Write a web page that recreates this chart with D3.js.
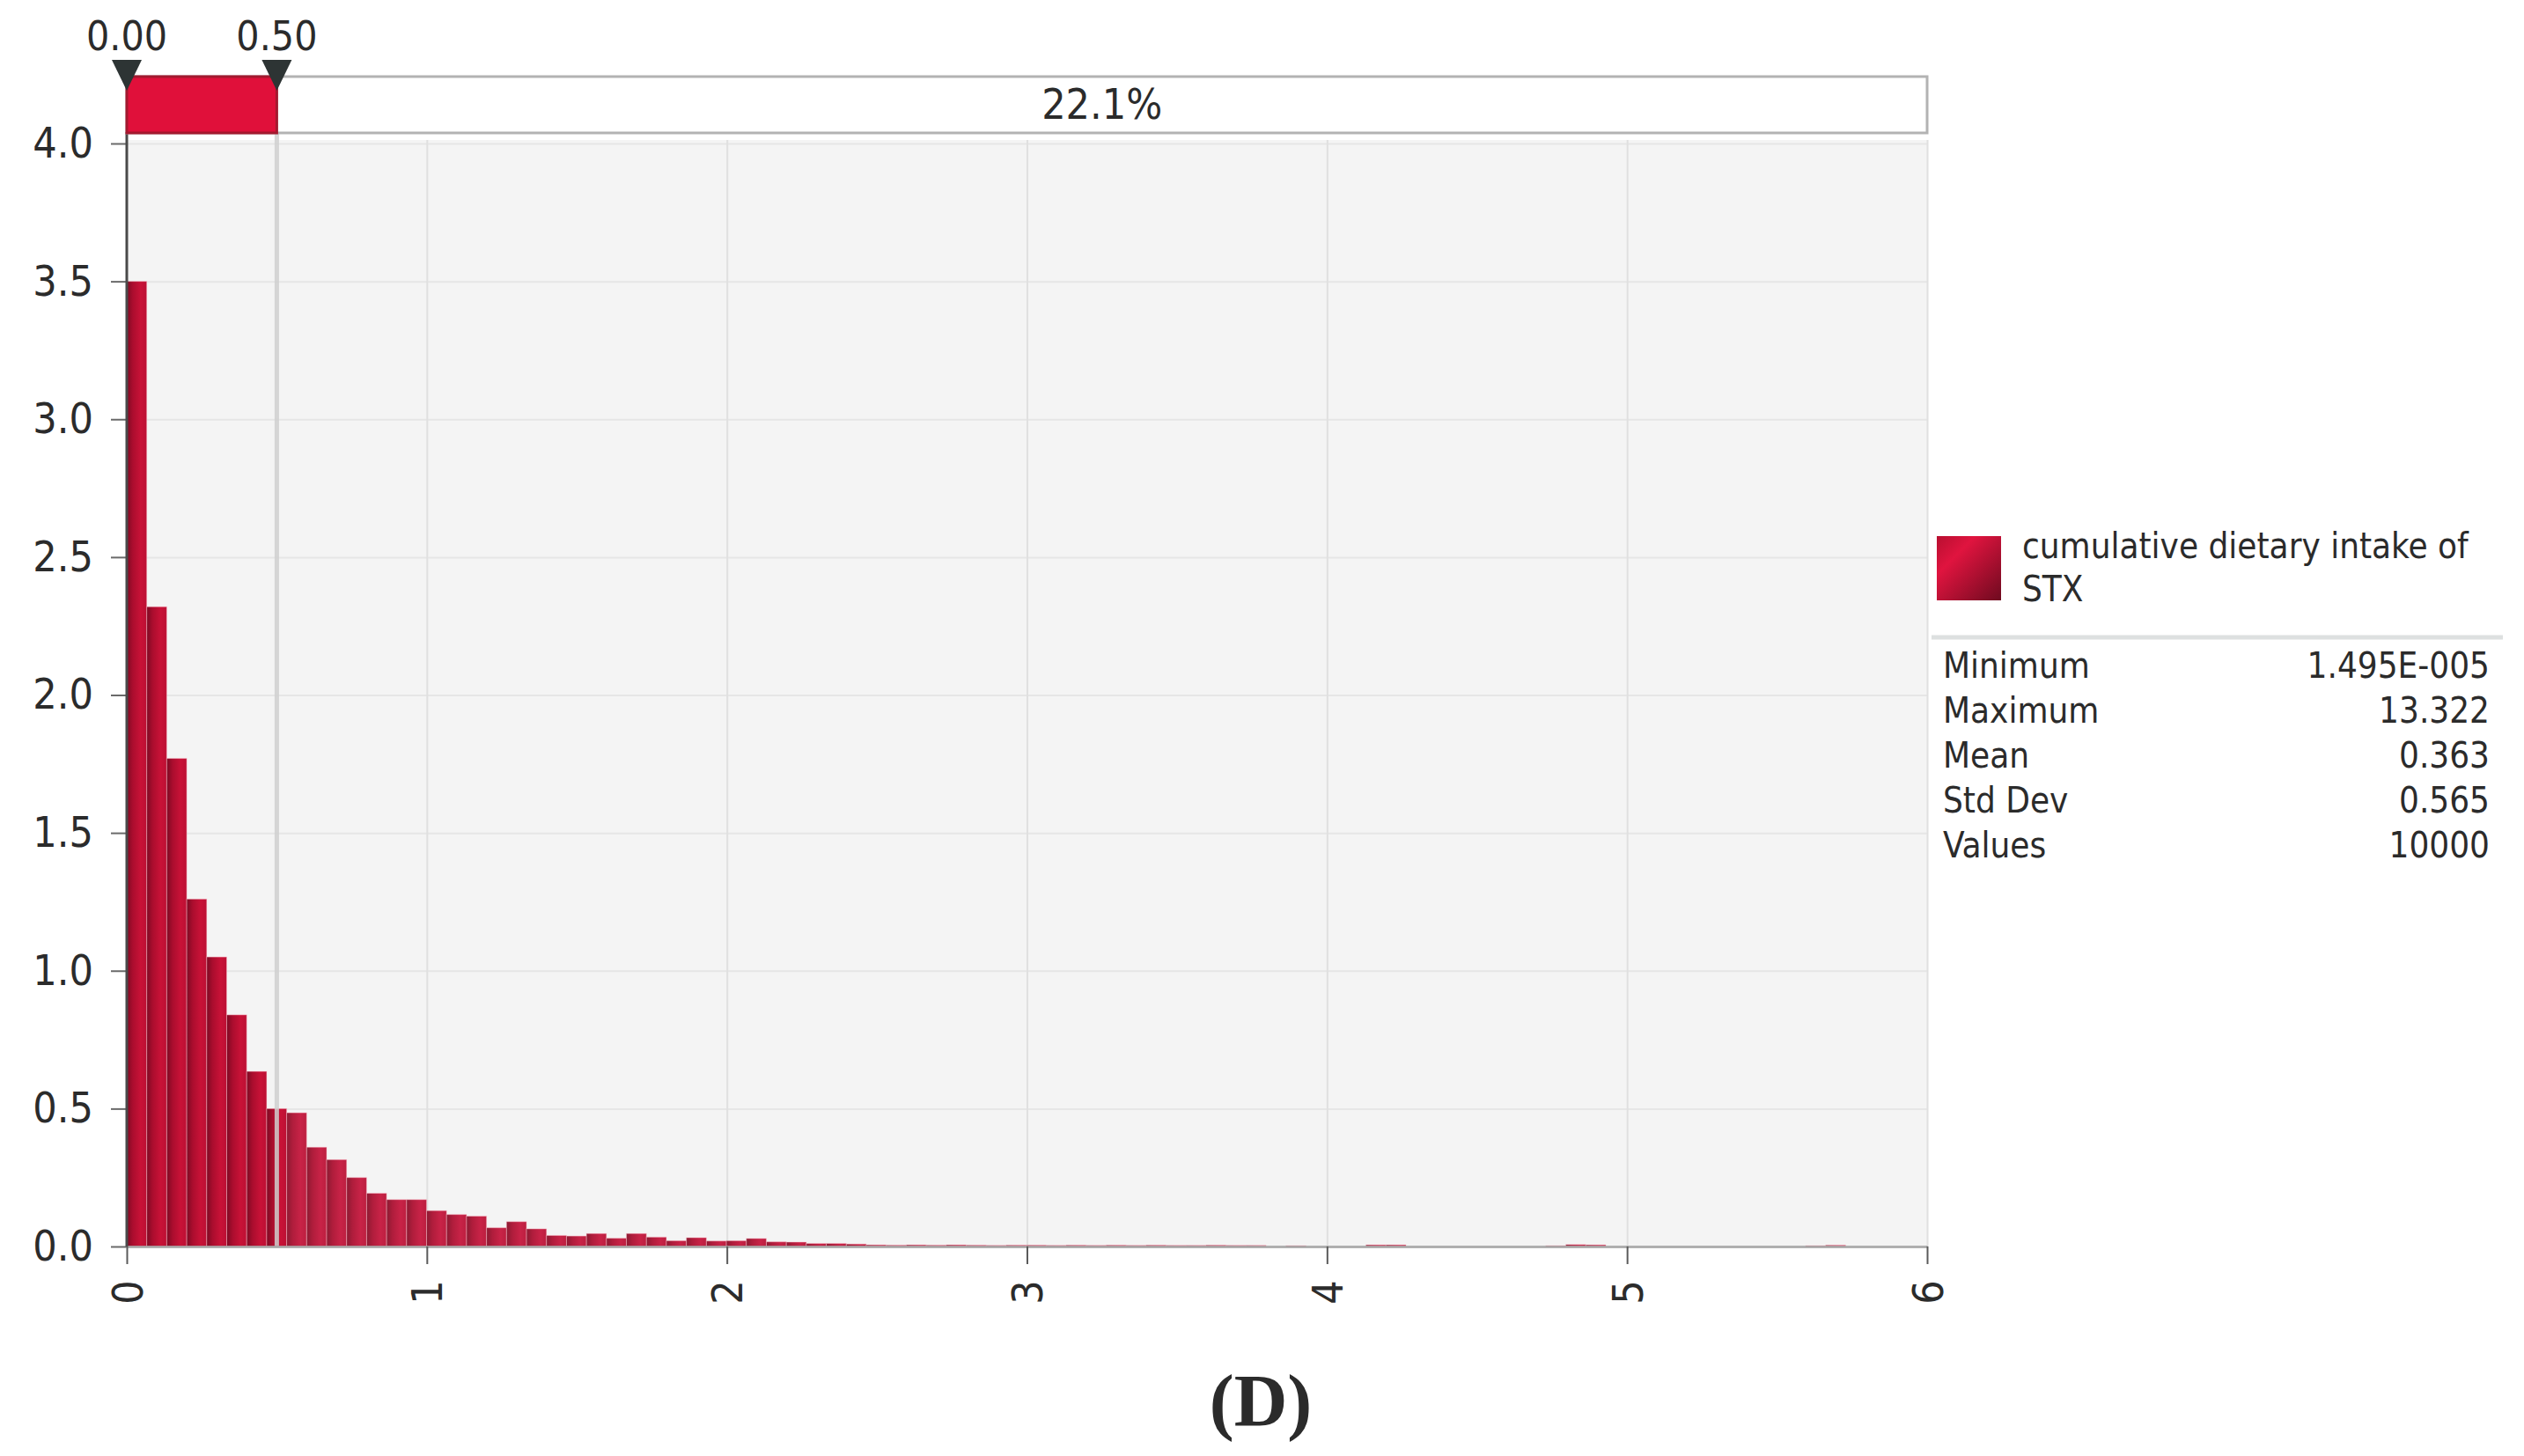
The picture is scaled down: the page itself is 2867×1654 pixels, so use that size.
<!DOCTYPE html>
<html>
<head>
<meta charset="utf-8">
<script src="https://cdn.jsdelivr.net/npm/d3@7/dist/d3.min.js"></script>
<style>
  body { margin: 0; background: #ffffff; }
  text { font-family: "DejaVu Sans Condensed", "DejaVu Sans", sans-serif; font-stretch: condensed; fill: #2b2b2b; }
</style>
</head>
<body>
<script>
//======================================================================//
//  DATA
//======================================================================//

    // histogram bins (200 bins over min..max, only the part up to 6 is shown)
    var binWidth = 13.322 / 200;
    var density = [
        3.50, 2.32, 1.77, 1.26, 1.05, 0.84, 0.635, 0.50, 0.485, 0.36,
        0.315, 0.25, 0.193, 0.17, 0.17, 0.13, 0.116, 0.11, 0.068, 0.09,
        0.064, 0.04, 0.038, 0.047, 0.03, 0.047, 0.034, 0.021, 0.032, 0.02,
        0.021, 0.029, 0.017, 0.016, 0.011, 0.011, 0.009, 0.006, 0.005, 0.006,
        0.005, 0.006, 0.005, 0.004, 0.005, 0.005, 0.004, 0.005, 0.004, 0.005,
        0.004, 0.005, 0.004, 0.004, 0.005, 0.004, 0.004, 0, 0.003, 0,
        0, 0, 0.006, 0.006, 0, 0, 0, 0, 0, 0,
        0, 0.003, 0.007, 0.006, 0, 0, 0, 0, 0, 0,
        0, 0, 0, 0, 0.003, 0.005, 0, 0, 0, 0
    ];

    var xTicks = [0, 1, 2, 3, 4, 5, 6];
    var yTicks = [0, 0.5, 1, 1.5, 2, 2.5, 3, 3.5, 4];

    // delimiters on the top slider and the share to the right of them
    var delimiters = [0.00, 0.50];
    var rightShare = "22.1%";

    var seriesName = ["cumulative dietary intake of", "STX"];
    var statNames = ["Minimum", "Maximum", "Mean", "Std Dev", "Values"];
    var statValues = ["1.495E-005", "13.322", "0.363", "0.565", "10000"];
    var panelLabel = "(D)";

//======================================================================//
//  SETUP
//======================================================================//

    var W = 2867, H = 1654;

    var svg = d3.select("body")
        .append("svg")
        .attr("width", W)
        .attr("height", H);

    var x = d3.scaleLinear().domain([0, 6]).range([144, 2189]);
    var y = d3.scaleLinear().domain([0, 4]).range([1416, 163]);

    var defs = svg.append("defs");

    // bar shading, dark on the left edge to bright red
    var g1 = defs.append("linearGradient").attr("id", "barGrad")
        .attr("x1", "0").attr("x2", "1").attr("y1", "0").attr("y2", "0");
    g1.append("stop").attr("offset", "0").attr("stop-color", "#7e0a23");
    g1.append("stop").attr("offset", "0.3").attr("stop-color", "#ab0d2e");
    g1.append("stop").attr("offset", "0.7").attr("stop-color", "#c81237");
    g1.append("stop").attr("offset", "1").attr("stop-color", "#bc1034");

    var g2 = defs.append("linearGradient").attr("id", "barGrad2")
        .attr("x1", "0").attr("x2", "1").attr("y1", "0").attr("y2", "0");
    g2.append("stop").attr("offset", "0").attr("stop-color", "#8c1a32");
    g2.append("stop").attr("offset", "0.3").attr("stop-color", "#b01d3c");
    g2.append("stop").attr("offset", "0.7").attr("stop-color", "#c82347");
    g2.append("stop").attr("offset", "1").attr("stop-color", "#bc1f40");

    var g3 = defs.append("linearGradient").attr("id", "swatchGrad")
        .attr("x1", "0").attr("x2", "1").attr("y1", "0").attr("y2", "1");
    g3.append("stop").attr("offset", "0").attr("stop-color", "#b80f30");
    g3.append("stop").attr("offset", "0.3").attr("stop-color", "#e0143f");
    g3.append("stop").attr("offset", "1").attr("stop-color", "#6e0a1f");

//======================================================================//
//  PLOT AREA
//======================================================================//

    svg.append("rect")
        .attr("x", x(0))
        .attr("y", y(4) - 4)
        .attr("width", x(6) - x(0))
        .attr("height", y(0) - y(4) + 4)
        .attr("fill", "#f4f4f4");

    // horizontal gridlines
    svg.append("g")
        .attr("class", "grid")
        .attr("transform", "translate(" + x(0) + ",0)")
        .call(d3.axisLeft(y).tickValues(yTicks).tickSize(-(x(6) - x(0))).tickFormat(""))
        .call(function(g) {
            g.select(".domain").remove();
            g.selectAll("line").attr("stroke", "#e6e6e6").attr("stroke-width", 2);
        });

    // vertical gridlines
    svg.append("g")
        .attr("class", "grid")
        .attr("transform", "translate(0," + y(0) + ")")
        .call(d3.axisBottom(x).tickValues(xTicks.slice(1)).tickSize(-(y(0) - y(4) + 4)).tickFormat(""))
        .call(function(g) {
            g.select(".domain").remove();
            g.selectAll("line").attr("stroke", "#e0e0e0").attr("stroke-width", 2);
        });

    // bars
    var bins = density.map(function(d, i) {
        return { x0: i * binWidth, x1: (i + 1) * binWidth, v: d };
    }).filter(function(d) { return d.x0 < 6 && d.v > 0; });

    svg.selectAll("rect.bar")
        .data(bins)
        .join("rect")
            .attr("class", "bar")
            .attr("x", function(d) { return x(d.x0); })
            .attr("width", function(d) { return x(Math.min(d.x1, 6)) - x(d.x0); })
            .attr("y", function(d) { return y(d.v); })
            .attr("height", function(d) { return y(0) - y(d.v); })
            .attr("fill", function(d) { return d.x0 < delimiters[1] ? "url(#barGrad)" : "url(#barGrad2)"; })
            .attr("stroke", "rgba(255,190,205,0.45)")
            .attr("stroke-width", 1);

    // delimiter line at 0.5
    svg.append("line")
        .attr("x1", x(delimiters[1])).attr("x2", x(delimiters[1]))
        .attr("y1", 151).attr("y2", y(0))
        .attr("stroke", "#cfcfcf")
        .attr("stroke-opacity", 0.85)
        .attr("stroke-width", 5);

//======================================================================//
//  AXES
//======================================================================//

    var xAxis = svg.append("g")
        .attr("transform", "translate(0," + y(0) + ")")
        .call(d3.axisBottom(x).tickValues(xTicks).tickSize(20).tickSizeOuter(0).tickFormat(d3.format("d")));
    xAxis.select(".domain").attr("stroke", "#a0a0a0").attr("stroke-width", 3).attr("stroke-opacity", 0.8);
    xAxis.selectAll(".tick line").attr("stroke", "#5a5a5a").attr("stroke-width", 2);
    xAxis.selectAll(".tick text")
        .attr("font-size", 48)
        .attr("fill", "#2b2b2b")
        .attr("text-anchor", "middle")
        .attr("dominant-baseline", "central")
        .attr("y", 0)
        .attr("dy", null)
        .attr("transform", "translate(0,52) rotate(-90)");

    var yAxis = svg.append("g")
        .attr("transform", "translate(" + x(0) + ",0)")
        .call(d3.axisLeft(y).tickValues(yTicks).tickSize(18).tickSizeOuter(0).tickPadding(20).tickFormat(d3.format(".1f")));
    yAxis.select(".domain").remove();
    yAxis.selectAll(".tick line").attr("stroke", "#6a6a6a").attr("stroke-width", 2);
    yAxis.selectAll(".tick text").attr("font-size", 48).attr("fill", "#2b2b2b");

    svg.append("line")
        .attr("x1", x(0)).attr("x2", x(0))
        .attr("y1", 150).attr("y2", y(0))
        .attr("stroke", "#4a4a4a")
        .attr("stroke-width", 3);

//======================================================================//
//  DELIMITER SLIDER
//======================================================================//

    svg.append("rect")
        .attr("x", x(0)).attr("y", 87)
        .attr("width", x(6) - x(0)).attr("height", 64)
        .attr("fill", "#ffffff")
        .attr("stroke", "#b3b3b3")
        .attr("stroke-width", 3);

    svg.append("rect")
        .attr("x", x(delimiters[0])).attr("y", 87)
        .attr("width", x(delimiters[1]) - x(delimiters[0])).attr("height", 64)
        .attr("fill", "#e0103a")
        .attr("stroke", "#a3192f")
        .attr("stroke-width", 3);

    svg.append("text")
        .text(rightShare)
        .attr("x", (x(delimiters[1]) + x(6)) / 2)
        .attr("y", 135)
        .attr("text-anchor", "middle")
        .attr("font-size", 48);

    svg.selectAll("path.marker")
        .data(delimiters)
        .join("path")
            .attr("class", "marker")
            .attr("d", function(d) {
                var cx = x(d);
                return "M" + (cx - 17) + ",68 L" + (cx + 17) + ",68 L" + cx + ",103 Z";
            })
            .attr("fill", "#2d3434");

    svg.selectAll("text.marker")
        .data(delimiters)
        .join("text")
            .attr("class", "marker")
            .text(function(d) { return d3.format(".2f")(d); })
            .attr("x", function(d) { return x(d); })
            .attr("y", 57)
            .attr("text-anchor", "middle")
            .attr("font-size", 46);

//======================================================================//
//  LEGEND + STATS
//======================================================================//

    svg.append("rect")
        .attr("x", 2200).attr("y", 609)
        .attr("width", 73).attr("height", 73)
        .attr("fill", "url(#swatchGrad)");

    svg.selectAll("text.series")
        .data(seriesName)
        .join("text")
            .attr("class", "series")
            .text(function(d) { return d; })
            .attr("x", 2297)
            .attr("y", function(d, i) { return 634 + i * 49; })
            .attr("font-size", 40);

    svg.append("line")
        .attr("x1", 2194).attr("x2", 2843)
        .attr("y1", 724).attr("y2", 724)
        .attr("stroke", "#dde0e0")
        .attr("stroke-width", 5);

    svg.selectAll("text.statName")
        .data(statNames)
        .join("text")
            .attr("class", "statName")
            .text(function(d) { return d; })
            .attr("x", 2207)
            .attr("y", function(d, i) { return 770 + i * 51; })
            .attr("font-size", 40);

    svg.selectAll("text.statValue")
        .data(statValues)
        .join("text")
            .attr("class", "statValue")
            .text(function(d) { return d; })
            .attr("x", 2828)
            .attr("y", function(d, i) { return 770 + i * 51; })
            .attr("text-anchor", "end")
            .attr("font-size", 40);

    // panel label
    svg.append("text")
        .text(panelLabel)
        .attr("x", 1432)
        .attr("y", 1620)
        .attr("text-anchor", "middle")
        .attr("font-size", 84)
        .attr("font-weight", "bold")
        .style("font-family", "'Liberation Serif', 'DejaVu Serif', serif")
        .style("font-stretch", "normal")
        .attr("fill", "#000");
</script>
</body>
</html>
